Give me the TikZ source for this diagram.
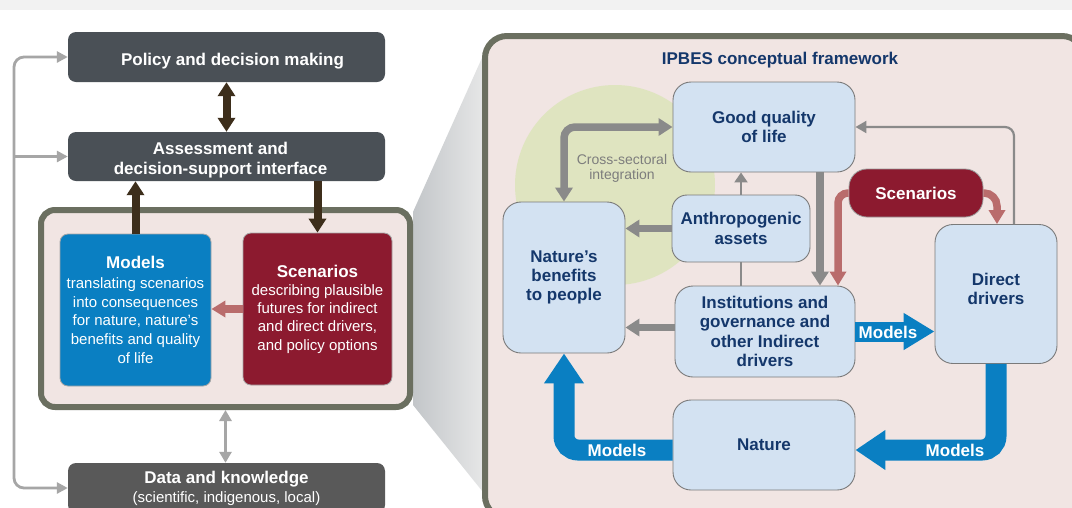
\documentclass[tikz,border=0pt]{standalone}
\usepackage{fontspec}
\setmainfont{Liberation Sans}
\usetikzlibrary{arrows.meta}

\definecolor{slate}{HTML}{4A5056}
\definecolor{datagray}{HTML}{595959}
\definecolor{brownarr}{HTML}{3D2E1B}
\definecolor{framegreen}{HTML}{6B6F60}
\definecolor{pinkbg}{HTML}{F1E5E3}
\definecolor{modelblue}{HTML}{0A7FC2}
\definecolor{scenred}{HTML}{8C1A2F}
\definecolor{pinkarrow}{HTML}{B96C6C}
\definecolor{boxblue}{HTML}{D3E2F2}
\definecolor{boxedge}{HTML}{7A7A7A}
\definecolor{navytext}{HTML}{14376B}
\definecolor{midgray}{HTML}{8A8A8A}
\definecolor{lightgrayline}{HTML}{A6A6A6}
\definecolor{sage}{HTML}{DFE4C0}
\definecolor{bandgray}{HTML}{F2F2F2}
\definecolor{labelgray}{HTML}{7D7D7D}
\definecolor{funnelL}{HTML}{C3C6C9}
\definecolor{funnelR}{HTML}{ECECEC}

\tikzset{
  darkbox/.style={fill=slate, text=white, rounded corners=8pt, inner sep=0pt,
    align=center, font=\fontsize{17}{20}\selectfont\bfseries},
  darktext/.style={text=white, inner sep=0pt, align=center,
    font=\fontsize{17}{20}\selectfont\bfseries},
  framebox/.style={draw=framegreen, line width=6pt, fill=pinkbg, inner sep=0pt},
  leftbox/.style={draw=black!35, line width=0.8pt, rounded corners=8pt, inner sep=0pt,
    text=white, align=center, font=\fontsize{15}{18.7}\selectfont},
  rnode/.style={draw=boxedge, line width=0.9pt, fill=boxblue, rounded corners=18pt,
    inner sep=0pt, text=navytext, align=center, font=\fontsize{17}{19.4}\selectfont\bfseries},
  brownline/.style={brownarr, line width=8pt},
  browntip/.style={-{Triangle[length=14pt,width=17pt]}},
  grayline/.style={lightgrayline, line width=2.8pt},
  thickgray/.style={midgray, line width=7.5pt, -{Triangle[length=14pt,width=17pt]}},
  thingray/.style={midgray, line width=2.2pt},
  pinkline/.style={pinkarrow, line width=7.5pt, -{Triangle[length=14pt,width=16pt]}},
  bluebig/.style={modelblue, line width=21pt, -{Triangle[length=30pt,width=38pt]}},
  bluemid/.style={modelblue, line width=20pt, -{Triangle[length=31pt,width=35pt]}},
  modlabel/.style={text=white, font=\fontsize{17}{20}\selectfont\bfseries, inner sep=0pt},
}

\begin{document}
\begin{tikzpicture}[x=1pt,y=-1pt]
\useasboundingbox (0,0) rectangle (1072,507);
\clip (0,0) rectangle (1072,507);
\fill[white] (0,0) rectangle (1072,507);
\fill[bandgray] (0,0) rectangle (1072,10);

% zoom funnel linking the two panels
\shade[left color=funnelL, right color=funnelR]
  (413,212) -- (490,40) -- (490,507) -- (495,507) -- (413,405) -- cycle;

% ---------- left panel ----------
\node[darkbox, minimum width=317pt, minimum height=50pt] (pol) at (226.5,57) {};
\node[darktext] (poltext) at (232.5,61) {Policy and decision making};
\node[darkbox, minimum width=317pt, minimum height=49pt] (ass) at (226.5,156.5) {};
\node[darktext] (asstext) at (220.5,160) {Assessment and\\decision-support interface};
\node[framebox, rounded corners=14pt, minimum width=369pt, minimum height=197pt] (fr)
  at (225.5,308.5) {};
\node[leftbox, fill=modelblue, minimum width=151pt, minimum height=152pt] (mod) at (135.5,310)
  {{\fontsize{17}{20}\selectfont\bfseries Models}\\[1pt]translating scenarios\\into consequences\\
   for nature, nature’s\\benefits and quality\\of life};
\node[leftbox, fill=scenred, minimum width=149pt, minimum height=152pt,
  font=\fontsize{15}{18.3}\selectfont] (scl) at (317.5,309)
  {{\fontsize{17}{20}\selectfont\bfseries Scenarios}\\describing plausible\\futures for indirect\\
   and direct drivers,\\and policy options};
\node[darkbox, fill=datagray, minimum width=317pt, minimum height=50pt] (data) at (226.5,488)
  {\fontsize{17}{18}\selectfont Data and knowledge\\[-1pt]{\fontsize{15}{18}\selectfont\mdseries (scientific, indigenous, local)}};

% connectors of the left panel
\draw[brownline, {Triangle[length=14pt,width=17pt]}-{Triangle[length=14pt,width=17pt]}]
  (pol.south) -- (ass.north);
\draw[brownline, browntip] (mod.north) -- (mod.north |- ass.south);
\draw[brownline, browntip] (ass.south -| scl.north) -- (scl.north);
\draw[pinkline] (scl.west) -- (scl.west -| mod.east);
\draw[grayline, {Triangle[length=11pt,width=12pt]}-{Triangle[length=11pt,width=12pt]}]
  (fr.south) -- (fr.south |- data.north);
\coordinate (lx) at (14,300);
\draw[grayline, rounded corners=10pt,
  {Triangle[length=11pt,width=11pt]}-{Triangle[length=11pt,width=11pt]}]
  (pol.west) -| (lx) |- (data.west);
\draw[grayline, -{Triangle[length=11pt,width=11pt]}] (ass.west -| lx) -- (ass.west);

% ---------- right panel ----------
\draw[framegreen, line width=6pt, fill=pinkbg, rounded corners=22pt]
  (485,36) rectangle (1084,518);
\node[text=navytext, font=\fontsize{17}{20}\selectfont\bfseries, inner sep=0pt] (title)
  at (780,60) {IPBES conceptual framework};
\fill[sage] (615,185) circle[radius=100pt];

\node[rnode, minimum width=182pt, minimum height=90pt] (gq) at (764,127) {Good quality\\of life};
\node[rnode, rounded corners=15pt, minimum width=138pt, minimum height=67pt] (aa) at (741,228.5)
  {Anthropogenic\\assets};
\node[rnode, minimum width=122pt, minimum height=151pt] (nb) at (564,277.5)
  {Nature’s\\benefits\\to people};
\node[rnode, minimum width=180pt, minimum height=91pt] (inst) at (765,331.5)
  {Institutions and\\governance and\\other Indirect\\drivers};
\node[rnode, minimum width=122pt, minimum height=139pt] (dd) at (996,294) {};
\node[text=navytext, font=\fontsize{17}{19.4}\selectfont\bfseries, align=center, inner sep=0pt]
  (ddtext) at (996,289) {Direct\\drivers};
\node[rnode, minimum width=182pt, minimum height=90pt] (nat) at (764,445) {Nature};
\node[draw=black!40, line width=0.8pt, fill=scenred, rounded corners=18pt, inner sep=0pt,
  minimum width=134pt, minimum height=48pt, text=white,
  font=\fontsize{17}{20}\selectfont\bfseries] (sc) at (916,193) {Scenarios};
\node[text=labelgray, font=\fontsize{14}{15.5}\selectfont, align=center, inner sep=0pt]
  (cross) at (622,168.5) {Cross-sectoral\\integration};

% connectors of the framework
\draw[midgray, line width=7.5pt, rounded corners=11pt,
  {Triangle[length=14pt,width=17pt]}-{Triangle[length=14pt,width=17pt]}]
  (nb.north) |- (gq.west);
\draw[thickgray] (aa.west) -- (aa.west -| nb.east);
\draw[thingray, -{Triangle[length=10pt,width=13pt]}] (aa.north) -- (aa.north |- gq.south);
\draw[thingray] (aa.south) -- (aa.south |- inst.north);
\coordinate (gqx) at ([xshift=56pt]gq.south);
\draw[thickgray] (gqx) -- (gqx |- inst.north);
\coordinate (ip) at ([xshift=73pt]inst.north);
\draw[pinkline, rounded corners=10pt] (sc.west) -| (ip);
\coordinate (dp) at ([xshift=1pt]dd.north);
\draw[pinkline, rounded corners=13pt] (sc.east) -| (dp);
\coordinate (dg) at ([xshift=18pt]dd.north);
\draw[thingray, rounded corners=9pt, -{Triangle[length=11pt,width=12pt]}] (dg) |- (gq.east);
\coordinate (iw) at ([yshift=4pt]inst.west);
\draw[thickgray] (iw) -- (iw -| nb.east);

\draw[bluemid] (inst.east) -- (inst.east -| dd.west);
\draw[bluebig, rounded corners=14pt] (dd.south) |- ([yshift=-5pt]nat.east);
\draw[bluebig, rounded corners=14pt] ([yshift=-5pt]nat.west) -| (nb.south);
\node[modlabel] (m1) at (888,332) {Models};
\node[modlabel] (m2) at (955,450) {Models};
\node[modlabel] (m3) at (617,450) {Models};
\end{tikzpicture}
\end{document}
